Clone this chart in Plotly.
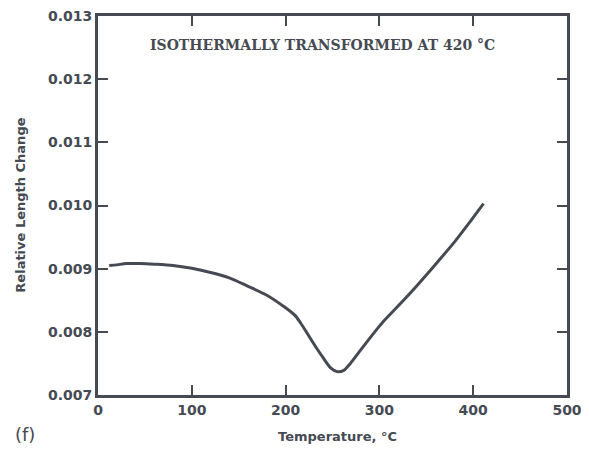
import plotly.graph_objects as go

# Data
temperature = [12, 20, 30, 45, 60, 80, 100, 120, 140, 160, 180, 200, 210, 216,
               225, 234, 240, 248, 255, 262, 269, 283, 300, 304, 329, 357,
               381, 397, 411]
length_change = [0.00905, 0.00906, 0.00908, 0.00908, 0.00907, 0.00905, 0.009005,
                 0.00894, 0.008855, 0.00872, 0.00858, 0.00838, 0.00826, 0.00814,
                 0.00793, 0.00772, 0.00759, 0.00743, 0.00737, 0.00739, 0.0075,
                 0.00777, 0.00809, 0.00816, 0.00855, 0.00902, 0.00944, 0.00975,
                 0.01003]

x_ticks = [0, 100, 200, 300, 400, 500]
y_ticks = [0.007, 0.008, 0.009, 0.010, 0.011, 0.012, 0.013]
y_tick_labels = ["0.007", "0.008", "0.009", "0.010", "0.011", "0.012", "0.013"]

INK = "#454a53"
FONT = "DejaVu Sans"

fig = go.Figure()
fig.add_trace(go.Scatter(
    x=temperature, y=length_change, mode="lines",
    line=dict(color=INK, width=3, shape="spline", smoothing=0.8),
    showlegend=False, hoverinfo="skip"))

axis_common = dict(
    showline=True, linecolor=INK, linewidth=3, mirror="allticks",
    ticks="inside", ticklen=10, tickwidth=2, tickcolor=INK,
    showgrid=False, zeroline=False, automargin=False,
    ticklabeloverflow="allow",
    tickfont=dict(family=FONT, size=14, color=INK, weight="bold"),
)

fig.update_xaxes(range=[0, 500], tickvals=x_ticks, ticklabelstandoff=0, **axis_common)
fig.update_yaxes(range=[0.007, 0.013], tickvals=y_ticks, ticktext=y_tick_labels,
                 ticklabelstandoff=0, **axis_common)

fig.add_annotation(text="ISOTHERMALLY TRANSFORMED AT 420 °C", xref="paper", yref="paper",
                   x=0.479, y=0.923, showarrow=False, xanchor="center", yanchor="middle",
                   font=dict(family="DejaVu Serif", size=14, color=INK, weight="bold"))
fig.add_annotation(text="Temperature, °C", xref="paper", yref="paper",
                   x=0.51, y=-0.11, showarrow=False, xanchor="center", yanchor="middle",
                   font=dict(family=FONT, size=13, color=INK, weight="bold"))
fig.add_annotation(text="Relative Length Change", xref="paper", yref="paper",
                   x=-0.166, y=0.5, showarrow=False, xanchor="center", yanchor="middle",
                   textangle=-90,
                   font=dict(family=FONT, size=13, color=INK, weight="bold"))
fig.add_annotation(text="(f)", xref="paper", yref="paper",
                   x=-0.156, y=-0.105, showarrow=False, xanchor="center", yanchor="middle",
                   font=dict(family=FONT, size=18, color=INK))

# margins compensate for the page offset so the plot area sits where the reference's does
fig.update_layout(
    width=589, height=452,
    margin=dict(l=90, r=30, t=8, b=65, autoexpand=False),
    paper_bgcolor="white", plot_bgcolor="white",
)

fig.write_html("out.html")
